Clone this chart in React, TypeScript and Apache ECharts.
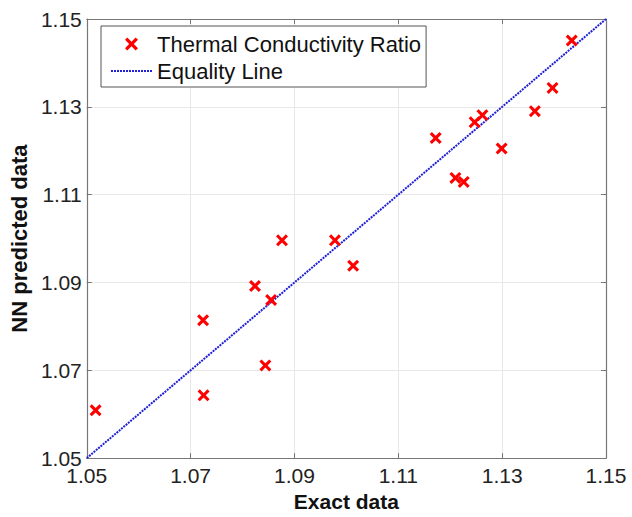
import React, { useEffect, useRef } from "react";
import * as echarts from "echarts";

const exactData = [1.0517, 1.0724, 1.0725, 1.0824, 1.0855, 1.0844, 1.0876, 1.0978, 1.1013, 1.1172, 1.121, 1.1226, 1.1247, 1.1262, 1.1299, 1.1363, 1.1397, 1.1434];
const predictedData = [1.0609, 1.0814, 1.0643, 1.0892, 1.086, 1.0711, 1.0996, 1.0996, 1.0938, 1.1229, 1.1138, 1.1129, 1.1265, 1.1281, 1.1205, 1.129, 1.1343, 1.1451];
const equalityLine = [1.05, 1.15];
const axisMin = 1.05;
const axisMax = 1.15;
const axisStep = 0.02;
const seriesNames = ["Thermal Conductivity Ratio", "Equality Line"];

const FONT = "'Liberation Sans', Arial, sans-serif";
const XMARK = "path://M0,1.8L1.8,0L5,3.2L8.2,0L10,1.8L6.8,5L10,8.2L8.2,10L5,6.8L1.8,10L0,8.2L3.2,5Z";

export default function App() {
  const ref = useRef<HTMLDivElement>(null);
  useEffect(() => {
    if (!ref.current) return;
    const chart = echarts.init(ref.current, null, { renderer: "svg" });
    const axisCommon = {
      type: "value",
      min: axisMin,
      max: axisMax,
      interval: axisStep,
      axisLine: { show: true, lineStyle: { color: "#777", width: 1.2 } },
      axisTick: { show: true, inside: true, length: 5, lineStyle: { color: "#777" } },
    };
    chart.setOption({
      animation: false,
      backgroundColor: "#fff",
      grid: { left: 86, top: 19, right: 26, bottom: 51, containLabel: false },
      legend: {
        orient: "vertical",
        left: 101,
        top: 26,
        padding: [7, 5, 5, 9],
        itemGap: 5,
        itemWidth: 41,
        itemHeight: 13,
        borderColor: "#555",
        borderWidth: 1,
        backgroundColor: "#fff",
        textStyle: { fontFamily: FONT, fontSize: 22, color: "#111" },
        data: [
          { name: seriesNames[0] },
          { name: seriesNames[1], itemStyle: { opacity: 0 } },
        ],
      },
      xAxis: [
        {
          ...axisCommon,
          position: "bottom",
          name: "Exact data",
          nameLocation: "middle",
          nameGap: 30,
          nameTextStyle: { fontFamily: FONT, fontSize: 21, fontWeight: "bold", color: "#111" },
          axisLabel: { fontFamily: FONT, fontSize: 21, color: "#222", margin: 7, formatter: (v: number) => v.toFixed(2) },
          splitLine: { show: true, lineStyle: { color: "#e8e8e8", width: 1 } },
        },
        {
          ...axisCommon,
          position: "top",
          axisLabel: { show: false },
          splitLine: { show: false },
        },
      ],
      yAxis: [
        {
          ...axisCommon,
          position: "left",
          name: "NN predicted data",
          nameLocation: "middle",
          nameGap: 53,
          nameTextStyle: { fontFamily: FONT, fontSize: 22, fontWeight: "bold", color: "#111" },
          axisLabel: { fontFamily: FONT, fontSize: 21, color: "#222", margin: 5, formatter: (v: number) => v.toFixed(2) },
          splitLine: { show: true, lineStyle: { color: "#e8e8e8", width: 1 } },
        },
        {
          ...axisCommon,
          position: "right",
          axisLabel: { show: false },
          splitLine: { show: false },
        },
      ],
      series: [
        {
          name: seriesNames[0],
          type: "scatter",
          symbol: XMARK,
          symbolSize: 12,
          symbolKeepAspect: true,
          itemStyle: { color: "#f00", opacity: 1 },
          data: exactData.map((x, i) => [x, predictedData[i]]),
          z: 3,
        },
        {
          name: seriesNames[1],
          type: "line",
          symbol: "none",
          lineStyle: { color: "#1f1fd6", width: 2, type: [2, 1] },
          itemStyle: { color: "#1f1fd6" },
          data: equalityLine.map((v) => [v, v]),
          z: 2,
        },
      ],
    });
    return () => chart.dispose();
  }, []);
  return <div ref={ref} style={{ position: "absolute", left: 0, top: 0, width: 632, height: 517 }} />;
}
